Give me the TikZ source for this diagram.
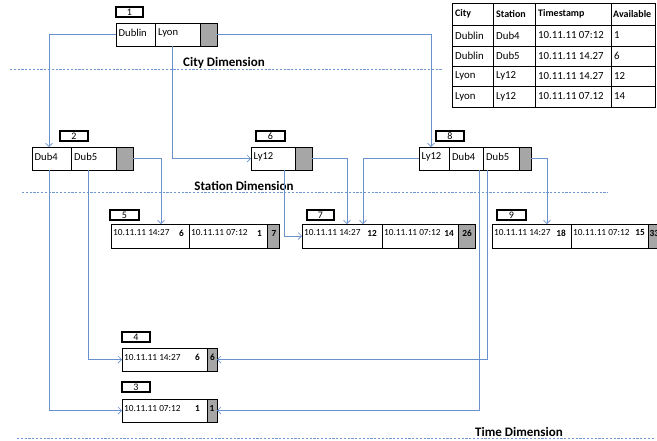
\documentclass[tikz,border=0pt]{standalone}
\usepackage{fontspec}
\setmainfont{Carlito}
\usetikzlibrary{arrows.meta,calc}
\definecolor{conncol}{RGB}{105,145,205}
\definecolor{dashcol}{RGB}{110,150,210}
\definecolor{cellgray}{RGB}{166,166,166}
\tikzset{
  cellbox/.style={draw=black,line width=0.8pt,inner sep=0pt,outer sep=0pt,anchor=north west,minimum height=23pt},
  graycell/.style={cellbox,fill=cellgray},
  tagbox/.style={draw=black,line width=1.5pt,inner sep=0pt,outer sep=0pt,anchor=north west,minimum height=10pt,font=\fontsize{10}{10}\selectfont},
  conn/.style={draw=conncol,line width=0.8pt,-{Straight Barb[length=3.5pt,width=7pt,line width=0.7pt]}},
  dimline/.style={draw=dashcol,line width=0.8pt,dash pattern=on 2.2pt off 1.6pt},
  dimtext/.style={font=\fontsize{13}{13}\selectfont\bfseries,inner sep=0pt},
  ltxt/.style={anchor=west,inner sep=0pt,font=\fontsize{10.6}{10.6}\selectfont},
  ttxt/.style={anchor=west,inner sep=0pt,font=\fontsize{9.3}{9.3}\selectfont},
  btxt/.style={anchor=east,inner sep=0pt,font=\fontsize{9.3}{9.3}\selectfont\bfseries},
  tabtxt/.style={anchor=west,inner sep=0pt,font=\fontsize{10.8}{10.8}\selectfont},
  tabhead/.style={anchor=west,inner sep=0pt,font=\fontsize{10}{10}\selectfont\bfseries},
}
\begin{document}
\begin{tikzpicture}[x=1pt,y=-1pt]
\useasboundingbox (0,0) rectangle (657,440);
\begin{scope}
\clip (0,0) rectangle (657,440);

% dimension lines and labels
\draw[dimline] (10,69) -- (442,69);
\node[dimtext] (cityd) at (224,63) {City Dimension};
\draw[dimline] (22,192) -- (608,192);
\node[dimtext] (statd) at (244,186) {Station Dimension};
\draw[dimline] (17,438) -- (655,438);
\node[dimtext] (timed) at (519,432) {Time Dimension};

% node 1
\node[tagbox,minimum width=27pt] (t1) at (116,7) {1};
\node[cellbox,minimum width=39pt] (n1a) at (116,23) {};
\node[cellbox,minimum width=45pt] (n1b) at (155,23) {};
\node[graycell,minimum width=17pt] (n1g) at (200,23) {};
\node[ltxt] (x1a) at ([xshift=2.5pt,yshift=1.5pt]n1a.west) {Dublin};
\node[ltxt] (x1b) at ([xshift=3pt,yshift=1.5pt]n1b.west) {Lyon};

% node 2
\node[tagbox,minimum width=28pt] (t2) at (60,131) {2};
\node[cellbox,minimum width=39pt] (n2a) at (32,147) {};
\node[cellbox,minimum width=45pt] (n2b) at (71,147) {};
\node[graycell,minimum width=17pt] (n2g) at (116,147) {};
\node[ltxt] (x2a) at ([xshift=2.5pt,yshift=1.5pt]n2a.west) {Dub4};
\node[ltxt] (x2b) at ([xshift=3pt,yshift=1.5pt]n2b.west) {Dub5};

% node 6
\node[tagbox,minimum width=29pt] (t6) at (256,131) {6};
\node[cellbox,minimum width=44pt] (n6a) at (251,147) {};
\node[graycell,minimum width=17pt] (n6g) at (295,147) {};
\node[ltxt] (x6a) at ([xshift=2.5pt,yshift=1.5pt]n6a.west) {Ly12};

% node 8
\node[tagbox,minimum width=28pt] (t8) at (436,131) {8};
\node[cellbox,minimum width=30pt] (n8a) at (419,147) {};
\node[cellbox,minimum width=34pt] (n8b) at (449,147) {};
\node[cellbox,minimum width=36pt] (n8c) at (483,147) {};
\node[graycell,minimum width=12pt] (n8g) at (519,147) {};
\node[ltxt] (x8a) at ([xshift=2.5pt,yshift=1.5pt]n8a.west) {Ly12};
\node[ltxt] (x8b) at ([xshift=3pt,yshift=1.5pt]n8b.west) {Dub4};
\node[ltxt] (x8c) at ([xshift=3pt,yshift=1.5pt]n8c.west) {Dub5};

% node 5
\node[tagbox,minimum width=29pt] (t5) at (110,210) {5};
\node[cellbox,minimum width=78pt,minimum height=24pt] (n5a) at (111,224) {};
\node[cellbox,minimum width=78pt,minimum height=24pt] (n5b) at (189,224) {};
\node[graycell,minimum width=12pt,minimum height=24pt] (n5g) at (267,224) {};
\node[ttxt] (x5a) at ([xshift=2pt,yshift=3pt]n5a.west) {10.11.11 14:27};
\node[btxt] (y5a) at ([xshift=-5pt,yshift=3pt]n5a.east) {6};
\node[ttxt] (x5b) at ([xshift=2pt,yshift=3pt]n5b.west) {10.11.11 07:12};
\node[btxt] (y5b) at ([xshift=-5pt,yshift=3pt]n5b.east) {1};
\node[btxt] (y5g) at ([xshift=-2.5pt,yshift=3pt]n5g.east) {7};

% node 7
\node[tagbox,minimum width=27pt] (t7) at (307,210) {7};
\node[cellbox,minimum width=80pt,minimum height=24pt] (n7a) at (302,224) {};
\node[cellbox,minimum width=76pt,minimum height=24pt] (n7b) at (382,224) {};
\node[graycell,minimum width=17pt,minimum height=24pt] (n7g) at (458,224) {};
\node[ttxt] (x7a) at ([xshift=2pt,yshift=3pt]n7a.west) {10.11.11 14:27};
\node[btxt] (y7a) at ([xshift=-5pt,yshift=3pt]n7a.east) {12};
\node[ttxt] (x7b) at ([xshift=2pt,yshift=3pt]n7b.west) {10.11.11 07:12};
\node[btxt] (y7b) at ([xshift=-4pt,yshift=3pt]n7b.east) {14};
\node[btxt] (y7g) at ([xshift=-3pt,yshift=3pt]n7g.east) {26};

% node 9
\node[tagbox,minimum width=29pt] (t9) at (497,210) {9};
\node[cellbox,minimum width=79pt,minimum height=24pt] (n9a) at (492,224) {};
\node[cellbox,minimum width=77pt,minimum height=24pt] (n9b) at (571,224) {};
\node[graycell,minimum width=20pt,minimum height=24pt] (n9g) at (648,224) {};
\node[ttxt] (x9a) at ([xshift=2pt,yshift=3pt]n9a.west) {10.11.11 14:27};
\node[btxt] (y9a) at ([xshift=-5pt,yshift=3pt]n9a.east) {18};
\node[ttxt] (x9b) at ([xshift=2pt,yshift=3pt]n9b.west) {10.11.11 07:12};
\node[btxt] (y9b) at ([xshift=-3pt,yshift=3pt]n9b.east) {15};
\node[ttxt,font=\fontsize{9.3}{9.3}\selectfont\bfseries] (y9g) at ([xshift=1.5pt,yshift=3pt]n9g.west) {33};

% node 4
\node[tagbox,minimum width=28pt] (t4) at (122,332) {4};
\node[cellbox,minimum width=85pt] (n4a) at (122,348) {};
\node[graycell,minimum width=10pt] (n4g) at (207,348) {};
\node[ttxt] (x4a) at ([xshift=2pt,yshift=2pt]n4a.west) {10.11.11 14:27};
\node[btxt] (y4a) at ([xshift=-7pt,yshift=2pt]n4a.east) {6};
\node[btxt] (y4g) at ([xshift=-2pt,yshift=2pt]n4g.east) {6};

% node 3
\node[tagbox,minimum width=28pt] (t3) at (122,382) {3};
\node[cellbox,minimum width=85pt] (n3a) at (122,399) {};
\node[graycell,minimum width=10pt] (n3g) at (207,399) {};
\node[ttxt] (x3a) at ([xshift=2pt,yshift=2pt]n3a.west) {10.11.11 07:12};
\node[btxt] (y3a) at ([xshift=-7pt,yshift=2pt]n3a.east) {1};
\node[btxt] (y3g) at ([xshift=-2.5pt,yshift=2pt]n3g.east) {1};

% connectors
\draw[conn] (n1a.west) -| ([xshift=17pt]n2a.north west);
\draw[conn] ([xshift=17pt]n1b.south west) |- (n6a.west);
\draw[conn] (n1g.east) -| ([xshift=12pt]n8a.north west);
\draw[conn] ([xshift=17pt]n2a.south west) |- (n3a.west);
\draw[conn] ([xshift=17pt]n2b.south west) |- (n4a.west);
\draw[conn] (n2g.east) -| ([xshift=50pt]n5a.north west);
\draw[conn] ([xshift=33pt]n6a.south west) |- (n7a.west);
\draw[conn] (n6g.east) -| ([xshift=45pt]n7a.north west);
\draw[conn] (n8a.west) -| ([xshift=61pt]n7a.north west);
\draw[conn] (n8g.east) -| ([xshift=55pt]n9a.north west);
\draw[conn] ([xshift=30pt]n8b.south west) |- (n3g.east);
\draw[conn] ([xshift=4pt]n8c.south west) |- (n4g.east);

% table
\draw[line width=0.8pt] (452,3) rectangle (655,107);
\foreach \yy in {25,46,66,86} \draw[line width=0.8pt] (452,\yy) -- (655,\yy);
\foreach \xx in {493,535,611} \draw[line width=0.8pt] (\xx,3) -- (\xx,107);
\node[tabhead] (h1) at (455,14) {City};
\node[tabhead] (h2) at (496,14) {Station};
\node[tabhead] (h3) at (538,14) {Timestamp};
\node[tabhead] (h4) at (613,14) {Available};
\node[tabtxt] (r1a) at (455,35.5) {Dublin};
\node[tabtxt] (r1b) at (496,35.5) {Dub4};
\node[tabtxt] (r1c) at (538,35.5) {10.11.11 07:12};
\node[tabtxt] (r1d) at (614,35.5) {1};
\node[tabtxt] (r2a) at (455,56) {Dublin};
\node[tabtxt] (r2b) at (496,56) {Dub5};
\node[tabtxt] (r2c) at (538,56) {10.11.11 14.27};
\node[tabtxt] (r2d) at (614,56) {6};
\node[tabtxt] (r3a) at (455,76) {Lyon};
\node[tabtxt] (r3b) at (496,76) {Ly12};
\node[tabtxt] (r3c) at (538,76) {10.11.11 14.27};
\node[tabtxt] (r3d) at (614,76) {12};
\node[tabtxt] (r4a) at (455,96.5) {Lyon};
\node[tabtxt] (r4b) at (496,96.5) {Ly12};
\node[tabtxt] (r4c) at (538,96.5) {10.11.11 07.12};
\node[tabtxt] (r4d) at (614,96.5) {14};
\end{scope}
\end{tikzpicture}
\end{document}
